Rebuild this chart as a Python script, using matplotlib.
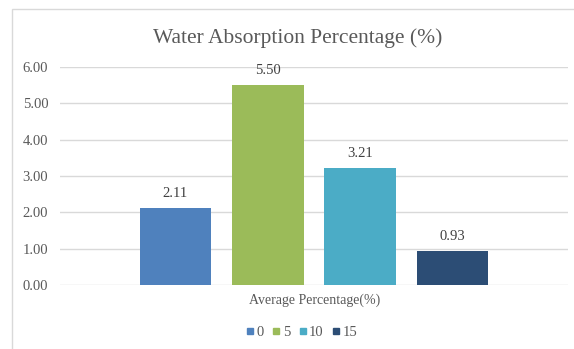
import matplotlib
matplotlib.use("Agg")
import matplotlib.pyplot as plt
from matplotlib.patches import Rectangle
from matplotlib.lines import Line2D

series = ["0", "5", "10", "15"]
values = [2.11, 5.50, 3.21, 0.93]
colors = ["#4F81BD", "#9BBB59", "#4BACC6", "#2C4D75"]
yticks = [0, 1, 2, 3, 4, 5, 6]
title = "Water Absorption Percentage (%)"
xlabel = "Average Percentage(%)"

plt.rcParams['font.family'] = ['Liberation Serif', 'DejaVu Serif']
W, H = 574, 349
fig = plt.figure(figsize=(W / 100, H / 100), dpi=100)

# outer chart border
fig.patches.append(Rectangle((12 / W, -0.1), 1.2, (H - 9) / H + 0.1,
                             transform=fig.transFigure, fill=False,
                             edgecolor="#D9D9D9", linewidth=1.0))

ax = fig.add_axes([60 / W, (H - 285) / H, (568 - 60) / W, (285 - 67) / H])
xs = range(len(values))
bars = ax.bar(xs, values, width=0.775, color=colors, zorder=3)
for x, v in zip(xs, values):
    ax.annotate(f"{v:.2f}", (x, v), xytext=(0, 10.5), textcoords="offset points",
                ha="center", va="center", fontsize=10.5, color="#404040")

ax.set_xlim(-1.25, 4.25)
ax.set_ylim(0, 6)
ax.set_yticks(yticks)
ax.set_yticklabels([f"{t:.2f}" for t in yticks], fontsize=10.5, color="#595959")
ax.tick_params(axis="y", length=0, pad=8.5)
ax.set_xticks([])
ax.grid(axis="y", color="#D9D9D9", linewidth=1.0, zorder=0)
for s in ax.spines.values():
    s.set_visible(False)

fig.text(298 / W, 1 - 38 / H, title, ha="center", va="center",
         fontsize=15.5, color="#595959")
fig.text(315 / W, 1 - 300 / H, xlabel, ha="center", va="center",
         fontsize=10, color="#595959")

handles = [Line2D([], [], marker="s", linestyle="none", markersize=5,
                  markerfacecolor=c, markeredgecolor=c) for c in colors]
fig.legend(handles, series, loc="center", bbox_to_anchor=(302 / W, 1 - 332 / H),
           ncol=4, frameon=False, fontsize=10.5, handlelength=0.5,
           handletextpad=0.2, columnspacing=0.6, labelcolor="#595959")

fig.savefig("out.png", dpi=100)
